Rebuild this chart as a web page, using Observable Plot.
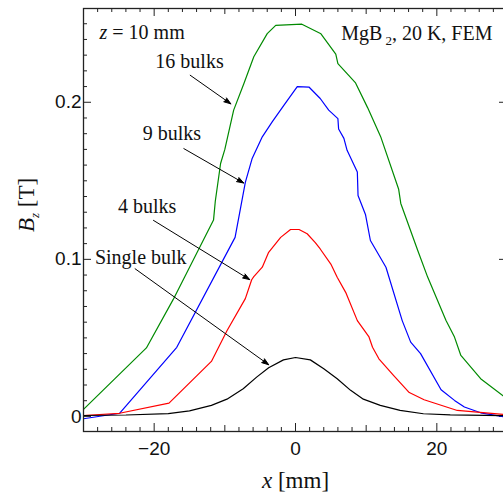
<!DOCTYPE html>
<html><head><meta charset="utf-8">
<script src="https://cdn.jsdelivr.net/npm/d3@7"></script>
<script src="https://cdn.jsdelivr.net/npm/@observablehq/plot@0.6"></script>
<style>body{margin:0;background:#fff}#chart{width:503px;height:492px;overflow:hidden}</style>
</head><body><div id="chart"></div>
<script>
// ---- data (x in mm, Bz in T) ----
const singleX = [-30, -24, -18, -15, -11.9, -9.7, -7.4, -5.5, -3.8, -1.7, 0, 2.1, 4, 5.9, 7.8, 9.6, 12, 14.8, 18.1, 21.9, 30];
const singleB = [0.0006, 0.0009, 0.0018, 0.0035, 0.007, 0.011, 0.0176, 0.025, 0.031, 0.036, 0.0375, 0.036, 0.0304, 0.024, 0.0166, 0.011, 0.007, 0.0038, 0.0017, 0.001, 0.0005];

const fourX = [-30, -24.9, -17.9, -11.9, -9.7, -7.1, -6.2, -5.9, -4.7, -3.8, -2.1, -0.7, 0.5, 1.65, 2.8, 3.5, 5, 5.9, 7.1, 8.75, 10.4, 10.9, 11.8, 13.9, 16.1, 18.2, 22.9, 30];
const fourB = [0.0006, 0.002, 0.0085, 0.035, 0.0545, 0.075, 0.087, 0.089, 0.095, 0.1045, 0.114, 0.119, 0.119, 0.1163, 0.1106, 0.1066, 0.097, 0.0886, 0.079, 0.061, 0.0506, 0.044, 0.0367, 0.026, 0.0152, 0.0106, 0.0038, 0.001];

const nineX = [-30, -24.9, -16.8, -8.55, -7.1, -6.15, -4.7, -3.3, -1.65, 0.25, 1.9, 3.5, 4.7, 6, 6.1, 6.85, 7.3, 8.75, 8.85, 9.9, 10.6, 12.8, 15.1, 16.3, 17.7, 20.6, 22.5, 23.9, 26.2, 30];
const nineB = [-0.0015, 0.002, 0.044, 0.114, 0.149, 0.164, 0.178, 0.1875, 0.198, 0.210, 0.2097, 0.2024, 0.195, 0.1896, 0.183, 0.177, 0.1694, 0.1556, 0.1406, 0.1286, 0.112, 0.095, 0.061, 0.0473, 0.040, 0.017, 0.0102, 0.006, 0.0023, -0.0006];

const sixteenX = [-30, -21.1, -17.3, -11.6, -11.35, -10.6, -10, -8.75, -7.3, -5.9, -4.0, -2.8, 0.9, 3.6, 5.7, 6.0, 7.3, 8.5, 10.2, 12.1, 14.6, 14.9, 17.3, 18.7, 21.3, 22.5, 23.4, 26.2, 30];
const sixteenB = [0.0045, 0.0436, 0.0745, 0.125, 0.137, 0.161, 0.170, 0.195, 0.212, 0.229, 0.2437, 0.249, 0.2497, 0.2436, 0.2306, 0.2246, 0.2182, 0.2123, 0.1966, 0.1775, 0.1446, 0.1356, 0.1056, 0.0887, 0.0611, 0.0505, 0.0388, 0.024, 0.011];

// annotations
const labelText = ["16 bulks", "9 bulks", "4 bulks", "Single bulk"];
const labelX = [-15.0, -17.5, -21.0, -21.9];
const labelY = [0.2257, 0.1799, 0.1334, 0.1009];
const arrowX1 = [-14.9, -15.8, -20.1, -22.7];
const arrowY1 = [0.2172, 0.1705, 0.1248, 0.094];
const arrowX2 = [-9.15, -7.33, -6.48, -3.79];
const arrowY2 = [0.199, 0.1486, 0.0871, 0.0329];

// ticks
const xMajor = [-20, 0, 20];
const xMid = [-10, 10];
const xMinor = [-28, -26, -24, -22, -18, -16, -14, -12, -8, -6, -4, -2, 2, 4, 6, 8, 12, 14, 16, 18, 22, 24, 26, 28];
const yMajor = [0, 0.1, 0.2];
const yMinor = [0.01, 0.02, 0.03, 0.04, 0.05, 0.06, 0.07, 0.08, 0.09, 0.11, 0.12, 0.13, 0.14, 0.15, 0.16, 0.17, 0.18, 0.19, 0.21, 0.22, 0.23, 0.24, 0.25];
const xTickLabels = ["\u221220", "0", "20"];
const yTickLabels = ["0", "0.1", "0.2"];

const W = 503, H = 492, mL = 83, mT = 8, mB = 61, mR = -4;
const pw = W - mL - mR, ph = H - mT - mB;

const toRows = (xs, bs) => xs.map((x, i) => ({x, b: bs[i]}));
const serif = "Liberation Serif, Times New Roman, serif";
const sans = "Liberation Sans, Arial, sans-serif";
const tickColor = "#222";

const ticksX = (vals, len) => [
  Plot.ruleX(vals, {x: d => d, insetTop: ph - len, stroke: tickColor, strokeWidth: 1}),
  Plot.ruleX(vals, {x: d => d, insetBottom: ph - len, stroke: tickColor, strokeWidth: 1})
];
const ticksY = (vals, len) => [
  Plot.ruleY(vals, {y: d => d, insetRight: pw - len, stroke: tickColor, strokeWidth: 1}),
  Plot.ruleY(vals, {y: d => d, insetLeft: pw - len, stroke: tickColor, strokeWidth: 1})
];

const svg = Plot.plot({
  width: W, height: H,
  marginLeft: mL, marginTop: mT, marginBottom: mB, marginRight: mR,
  style: {background: "white", overflow: "hidden"},
  x: {domain: [-30, 30], axis: null},
  y: {domain: [-0.0096, 0.2597], axis: null},
  marks: [
    ...ticksX(xMinor, 4), ...ticksX(xMid, 6), ...ticksX(xMajor, 8),
    ...ticksY(yMinor, 4), ...ticksY(yMajor, 8),
    Plot.line(toRows(sixteenX, sixteenB), {x: "x", y: "b", stroke: "#008a00", strokeWidth: 1.2}),
    Plot.line(toRows(nineX, nineB), {x: "x", y: "b", stroke: "#0000ff", strokeWidth: 1.2}),
    Plot.line(toRows(fourX, fourB), {x: "x", y: "b", stroke: "#ff0000", strokeWidth: 1.2}),
    Plot.line(toRows(singleX, singleB), {x: "x", y: "b", stroke: "#000000", strokeWidth: 1.2}),
    Plot.arrow(labelText, {x1: (d, i) => arrowX1[i], y1: (d, i) => arrowY1[i], x2: (d, i) => arrowX2[i], y2: (d, i) => arrowY2[i], stroke: "black", strokeWidth: 1, headLength: 11, headAngle: 38}),
    Plot.text(labelText, {x: (d, i) => labelX[i], y: (d, i) => labelY[i], text: d => d, fontFamily: serif, fontSize: 20, fill: "#111", textAnchor: "middle", lineAnchor: "middle"}),
    Plot.text(["z = 10 mm"], {frameAnchor: "top-left", text: d => d, textAnchor: "start", lineAnchor: "bottom", dx: 16, dy: 30, fontFamily: serif, fontSize: 20, fill: "#111"}),
    Plot.text(["MgB2, 20 K, FEM"], {frameAnchor: "top-right", text: d => d, textAnchor: "end", lineAnchor: "bottom", dx: -15, dy: 31, fontFamily: serif, fontSize: 20, fill: "#111"}),
    Plot.text(xMajor, {x: d => d, frameAnchor: "bottom", text: (d, i) => xTickLabels[i], lineAnchor: "top", dy: 10, fontFamily: sans, fontSize: 19, fill: "#111"}),
    Plot.text(yMajor, {y: d => d, frameAnchor: "left", text: (d, i) => yTickLabels[i], textAnchor: "end", lineAnchor: "middle", dx: -2, fontFamily: sans, fontSize: 19, fill: "#111"}),
    Plot.text(["x [mm]"], {frameAnchor: "bottom", text: d => d, lineAnchor: "bottom", dy: 56, fontFamily: serif, fontSize: 23, fill: "#111"}),
    Plot.text(["Bz [T]"], {frameAnchor: "left", text: d => d, rotate: -90, textAnchor: "start", lineAnchor: "bottom", dx: -50, dy: 12, fontFamily: serif, fontSize: 23, fill: "#111"}),
    Plot.frame({stroke: "#222", strokeWidth: 1.3})
  ]
});

document.getElementById("chart").appendChild(svg);

// rich text: italics and subscripts
const sel = d3.select(svg);
const byText = t => sel.selectAll("text").filter(function () { return this.textContent === t; });
byText("x [mm]").html('<tspan font-style="italic">x</tspan><tspan> [mm]</tspan>');
byText("Bz [T]").html('<tspan font-style="italic">B</tspan><tspan font-style="italic" font-size="13" dy="5">z</tspan><tspan dy="-5"> [T]</tspan>');
byText("z = 10 mm").html('<tspan font-style="italic">z</tspan><tspan> = 10 mm</tspan>');
byText("MgB2, 20 K, FEM").html('<tspan>MgB</tspan><tspan font-size="13" dx="3" dy="5">2</tspan><tspan dy="-5">, 20 K, FEM</tspan>');
// filled arrow heads
sel.selectAll('g[aria-label="arrow"] path').attr("fill", "black").attr("stroke-linejoin", "miter");
</script>
</body></html>
